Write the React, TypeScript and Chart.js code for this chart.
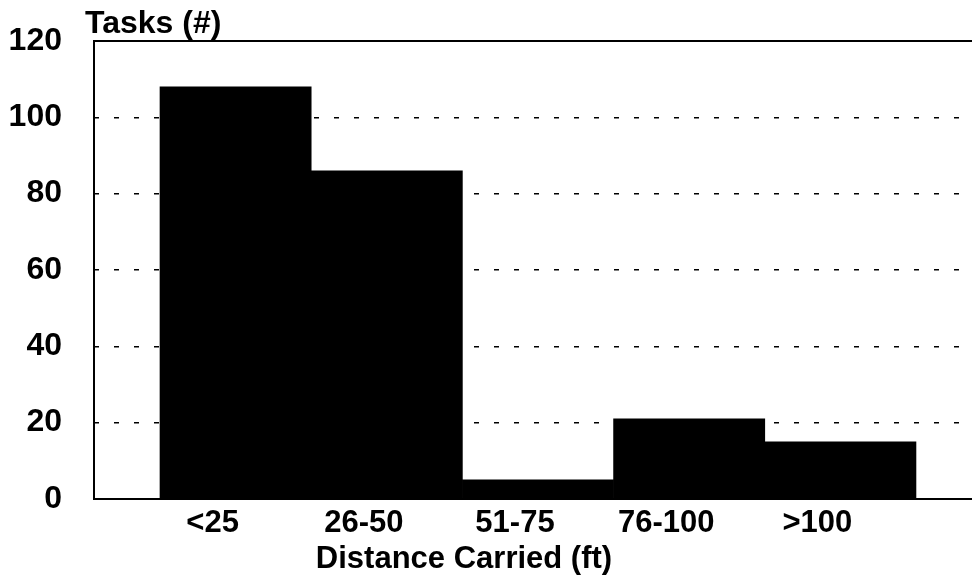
import React, { useEffect, useRef } from "react";
import { Chart, registerables } from "chart.js";

Chart.register(...registerables);

const categories: string[] = ["<25", "26-50", "51-75", "76-100", ">100"];
const tasks: number[] = [108, 86, 5, 21, 15];
const yTicks: number[] = [0, 20, 40, 60, 80, 100, 120];
const yTitle = "Tasks (#)";
const xTitle = "Distance Carried (ft)";

const FONT = "'Liberation Sans', Arial, Helvetica, sans-serif";

export default function App() {
  const ref = useRef<HTMLCanvasElement | null>(null);

  useEffect(() => {
    if (!ref.current) return;
    const textPlugin = {
      id: "extraText",
      afterDraw(chart: any) {
        const { ctx, chartArea } = chart;
        ctx.save();
        ctx.strokeStyle = "#000";
        ctx.lineWidth = 2;
        ctx.beginPath();
        ctx.moveTo(chartArea.left - 1, chartArea.top);
        ctx.lineTo(chart.width, chartArea.top);
        ctx.stroke();
        ctx.fillStyle = "#000";
        ctx.textBaseline = "alphabetic";
        ctx.textAlign = "left";
        ctx.font = `bold 32px ${FONT}`;
        ctx.fillText(yTitle, chartArea.left - 9, 33);
        ctx.textAlign = "center";
        ctx.font = `bold 31px ${FONT}`;
        ctx.fillText(xTitle, 464, 568);
        ctx.restore();
      },
    };

    const chart = new Chart(ref.current, {
      type: "bar",
      data: {
        datasets: [
          {
            label: yTitle,
            data: tasks.map((v, i) => ({ x: i, y: v })),
            backgroundColor: "#000",
            borderWidth: 0,
            barPercentage: 1,
            categoryPercentage: 1,
          },
        ],
      },
      options: {
        responsive: false,
        animation: false,
        layout: { padding: { top: 41, left: 0, right: 1, bottom: 0 } },
        plugins: {
          legend: { display: false },
          title: { display: false },
          tooltip: { enabled: false },
        },
        scales: {
          x: {
            type: "linear",
            offset: false,
            min: -0.9365,
            max: 4.864,
            afterBuildTicks: (axis: any) => {
              axis.ticks = categories.map((_, i) => ({ value: i }));
            },
            afterFit: (axis: any) => {
              axis.height = 76;
              axis.paddingLeft = 0;
              axis.paddingRight = 0;
            },
            grid: { display: false, drawTicks: false },
            border: { display: true, color: "#000", width: 2 },
            ticks: {
              autoSkip: false,
              maxRotation: 0,
              labelOffset: -23,
              padding: 6,
              color: "#000",
              font: { family: FONT, size: 31, weight: "bold" },
              callback: (value: any) => categories[Math.round(Number(value))] ?? "",
            },
          },
          y: {
            min: yTicks[0],
            max: yTicks[yTicks.length - 1],
            afterBuildTicks: (axis: any) => {
              axis.ticks = yTicks.map((v) => ({ value: v }));
            },
            afterFit: (axis: any) => {
              axis.width = 94;
              axis.paddingTop = 0;
              axis.paddingBottom = 0;
            },
            grid: {
              drawTicks: false,
              lineWidth: 1.5,
              color: (c: any) =>
                c.tick && (c.tick.value === 0 || c.tick.value === 120) ? "rgba(0,0,0,0)" : "#000",
            },
            border: { display: true, color: "#000", width: 2, dash: [5, 15], dashOffset: 1 },
            ticks: {
              padding: 32,
              color: "#000",
              font: { family: FONT, size: 32, weight: "bold" },
            },
          },
        },
      },
      plugins: [textPlugin],
    });
    return () => chart.destroy();
  }, []);

  return (
    <div style={{ position: "absolute", left: 0, top: 0, width: 972, height: 575, background: "#fff" }}>
      <canvas ref={ref} width={972} height={575} style={{ display: "block" }} />
    </div>
  );
}
